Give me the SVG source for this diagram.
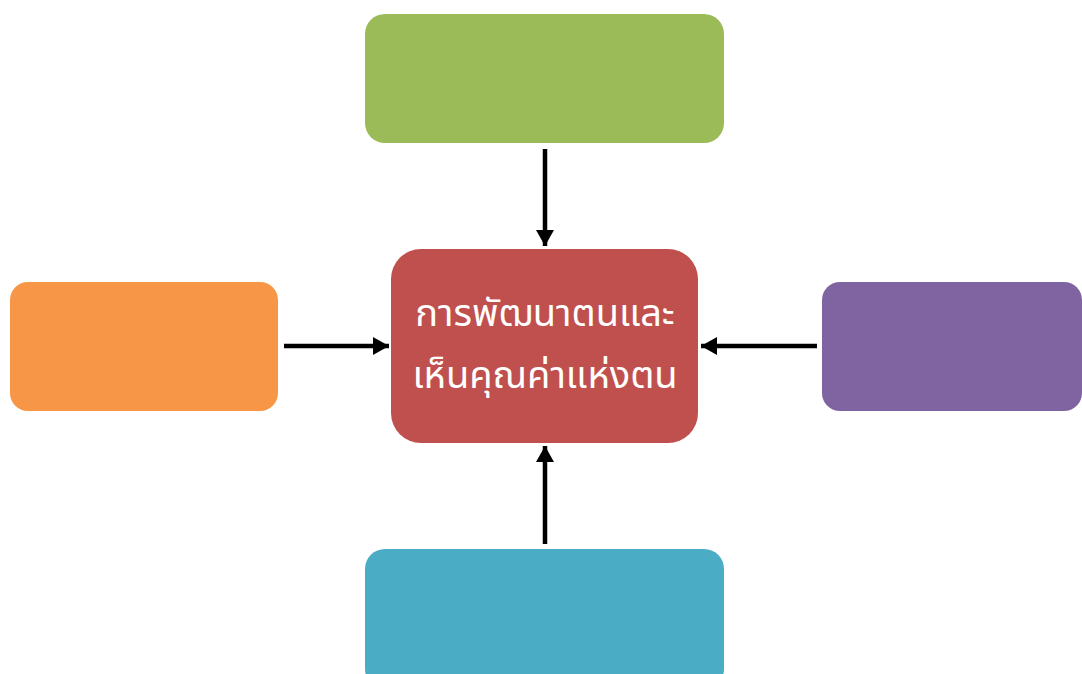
<svg xmlns="http://www.w3.org/2000/svg" width="1082" height="674" viewBox="0 0 1082 674">
<defs>
<marker id="ah" markerUnits="userSpaceOnUse" markerWidth="18" markerHeight="18" refX="16" refY="9" orient="auto">
<path d="M0,0 L16,9 L0,18 Z" fill="#000"/>
</marker>
<style>
.conn{stroke:#000;stroke-width:4.5;fill:none;marker-end:url(#ah)}
.lbl{font-family:"Noto Sans Thai","Noto Sans","DejaVu Sans",sans-serif;font-size:38px;fill:#fff;text-anchor:middle}
</style>
</defs>
<rect width="1082" height="674" fill="#fff"/>
<g id="top"><rect x="365" y="14" width="359" height="129" rx="20" fill="#9BBB59"/></g>
<g id="center"><rect x="391" y="249" width="307" height="194" rx="30" fill="#C0504D"/>
<text class="lbl" x="545" y="326">การพัฒนาตนและ</text>
<text class="lbl" x="545" y="388">เห็นคุณค่าแห่งตน</text></g>
<g id="left"><rect x="10" y="282" width="268" height="129" rx="18" fill="#F79646"/></g>
<g id="right"><rect x="822" y="282" width="260" height="129" rx="18" fill="#8064A2"/></g>
<g id="bottom"><rect x="365" y="549" width="359" height="140" rx="20" fill="#4BACC6"/></g>
<g id="connectors">
<line class="conn" x1="545" y1="149" x2="545" y2="246"/>
<line class="conn" x1="284" y1="346" x2="389" y2="346"/>
<line class="conn" x1="817" y1="346" x2="701" y2="346"/>
<line class="conn" x1="545" y1="544" x2="545" y2="446"/>
</g>
</svg>
